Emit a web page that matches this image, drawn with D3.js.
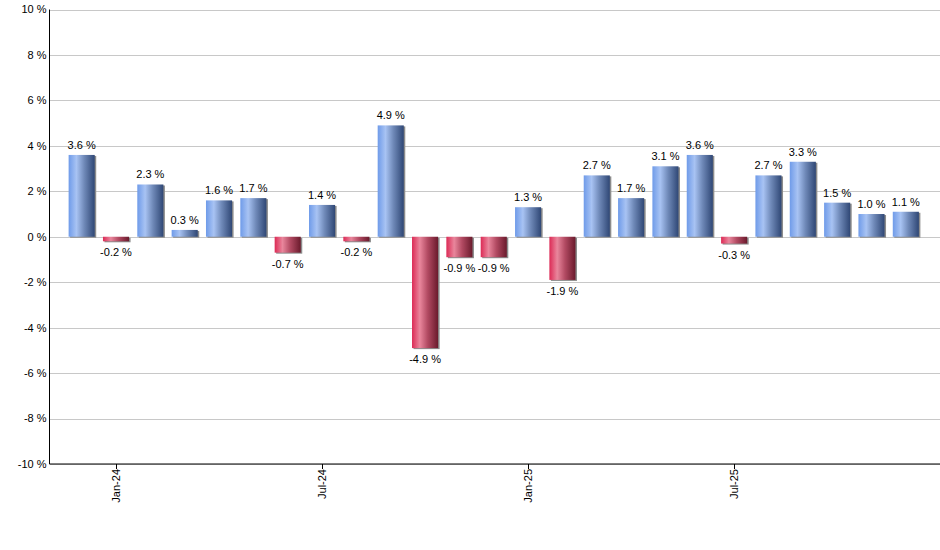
<!DOCTYPE html>
<html>
<head>
<meta charset="utf-8">
<script src="https://cdn.jsdelivr.net/npm/d3@7"></script>
<style>
  body { margin: 0; background: #fff; }
  svg { display: block; font-family: "Liberation Sans", Arial, sans-serif; }
</style>
</head>
<body>
<script>
let width = 940;
let height = 550;

// monthly returns, Dec-23 .. Dec-25
let months = ["Dec-23", "Jan-24", "Feb-24", "Mar-24", "Apr-24", "May-24", "Jun-24", "Jul-24",
    "Aug-24", "Sep-24", "Oct-24", "Nov-24", "Dec-24", "Jan-25", "Feb-25", "Mar-25", "Apr-25",
    "May-25", "Jun-25", "Jul-25", "Aug-25", "Sep-25", "Oct-25", "Nov-25", "Dec-25"];
let values = [3.6, -0.2, 2.3, 0.3, 1.6, 1.7, -0.7, 1.4, -0.2, 4.9, -4.9, -0.9, -0.9,
    1.3, -1.9, 2.7, 1.7, 3.1, 3.6, -0.3, 2.7, 3.3, 1.5, 1.0, 1.1];
let tickMonths = ["Jan-24", "Jul-24", "Jan-25", "Jul-25"];
let yTicks = [-10, -8, -6, -4, -2, 0, 2, 4, 6, 8, 10];

let data = months.map((m, i) => ({ month: m, value: values[i] }));

let plotLeft = 49.5, plotRight = 940, plotTop = 9.5, plotBottom = 464;

let svg = d3.select("body")
    .append("svg")
    .attr("width", width)
    .attr("height", height);

let x = d3.scaleBand()
    .domain(months)
    .range([64.5, 923])
    .paddingInner(0.24)
    .paddingOuter(0.12);

let y = d3.scaleLinear()
    .domain([-10, 10])
    .range([plotBottom, plotTop]);

// gradients
let defs = svg.append("defs");
function addGradient(id, stops) {
    let g = defs.append("linearGradient")
        .attr("id", id)
        .attr("x1", "0%").attr("x2", "100%")
        .attr("y1", "0%").attr("y2", "0%");
    stops.forEach(s => g.append("stop").attr("offset", s[0]).attr("stop-color", s[1]));
}
addGradient("gradPos", [["0%", "#6f9be9"], ["30%", "#a8c3f3"], ["60%", "#6f89b8"], ["100%", "#2f4775"]]);
addGradient("gradNeg", [["0%", "#dc2a55"], ["30%", "#e9869c"], ["60%", "#b24a62"], ["100%", "#6a1a2c"]]);

// gridlines
svg.append("g")
    .selectAll("line")
    .data(yTicks)
    .enter().append("line")
    .attr("x1", plotLeft)
    .attr("x2", plotRight)
    .attr("y1", d => Math.round(y(d)) + 0.5)
    .attr("y2", d => Math.round(y(d)) + 0.5)
    .attr("stroke", "#c8c8c8")
    .attr("stroke-width", 1);

// y labels
svg.append("g")
    .selectAll("text")
    .data(yTicks)
    .enter().append("text")
    .attr("x", plotLeft - 3)
    .attr("y", d => y(d))
    .attr("dy", "0.35em")
    .attr("text-anchor", "end")
    .attr("font-size", 11)
    .attr("fill", "#000")
    .text(d => d + " %");

// bars
let bars = svg.append("g");

// shadows
bars.selectAll(".shadow")
    .data(data)
    .enter().append("rect")
    .attr("class", "shadow")
    .attr("x", d => x(d.month) + 1.5)
    .attr("y", d => Math.min(y(d.value), y(0)) + 1)
    .attr("width", x.bandwidth())
    .attr("height", d => Math.abs(y(d.value) - y(0)))
    .attr("fill", "#8c8c8c");

bars.selectAll(".bar")
    .data(data)
    .enter().append("rect")
    .attr("class", "bar")
    .attr("x", d => x(d.month))
    .attr("y", d => Math.min(y(d.value), y(0)))
    .attr("width", x.bandwidth())
    .attr("height", d => Math.abs(y(d.value) - y(0)))
    .attr("fill", d => d.value >= 0 ? "url(#gradPos)" : "url(#gradNeg)");

// value labels
svg.append("g")
    .selectAll("text")
    .data(data)
    .enter().append("text")
    .attr("x", d => x(d.month) + x.bandwidth() / 2)
    .attr("y", d => d.value >= 0 ? y(d.value) - 6 : y(d.value) + 15)
    .attr("text-anchor", "middle")
    .attr("font-size", 11)
    .attr("fill", "#000")
    .text(d => d.value.toFixed(1) + " %");

// axis lines
svg.append("line")
    .attr("x1", plotLeft).attr("x2", plotLeft)
    .attr("y1", plotTop).attr("y2", plotBottom)
    .attr("stroke", "#000");
svg.append("line")
    .attr("x1", plotLeft).attr("x2", plotRight)
    .attr("y1", plotBottom).attr("y2", plotBottom)
    .attr("stroke", "#000");

// x ticks and labels
let xt = svg.append("g")
    .selectAll("g")
    .data(tickMonths)
    .enter().append("g")
    .attr("transform", d => `translate(${Math.round(x(d) + x.bandwidth() / 2) + 0.5},${plotBottom})`);

xt.append("line")
    .attr("y1", 0).attr("y2", 5)
    .attr("stroke", "#000");

xt.append("text")
    .attr("transform", "rotate(-90)")
    .attr("x", -5)
    .attr("y", 0)
    .attr("dy", "0.35em")
    .attr("text-anchor", "end")
    .attr("font-size", 11)
    .attr("fill", "#000")
    .text(d => d);
</script>
</body>
</html>
